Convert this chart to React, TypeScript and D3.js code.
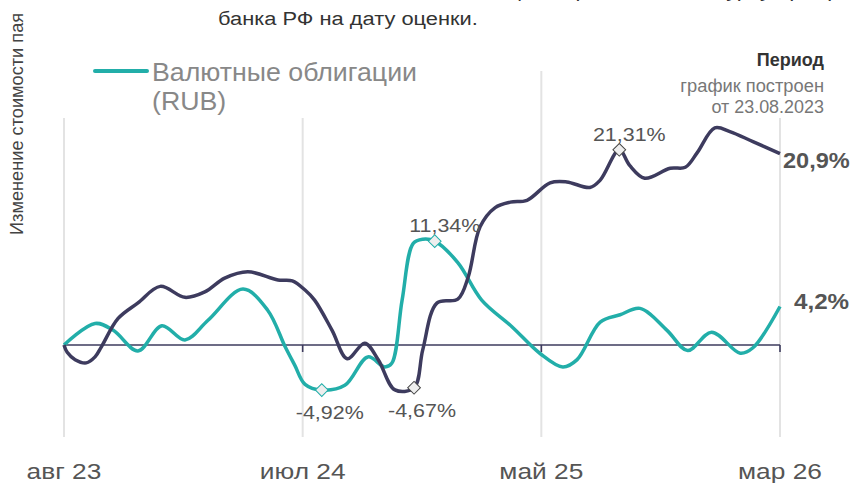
import { useEffect, useRef } from 'react'
import * as d3 from 'd3'

// x positions are weeks from the start of the period
const tickWeeks = [0, 30, 60, 90]
const tickLabels = ['авг 23', 'июл 24', 'май 25', 'мар 26']

const tealWeeks = [0, 3.9, 6.2, 9.3, 12.3, 15.2, 18.1, 22.5, 25.6, 27.8, 29.0, 30.3, 32.4, 35.3, 38.2, 40.3, 41.2, 42.5, 43.9, 45.1, 46.6, 49.5, 52.5, 56.3, 59.8, 62.7, 64.5, 67.4, 69.9, 72.4, 75.8, 78.4, 81.4, 85.0, 86.6, 90]
const tealValues = [0, 2.35, 1.6, -0.65, 2.1, 0.55, 2.7, 6.1, 3.8, -0.2, -2.2, -4.3, -4.92, -4.4, -1.3, -2.4, -2.0, 4.9, 11.1, 11.55, 11.34, 9.0, 4.9, 2.0, -0.9, -2.4, -1.6, 2.5, 3.3, 4.0, 1.6, -0.6, 1.4, -0.9, -0.3, 4.2]

const darkWeeks = [0, 0.4, 1.4, 2.8, 3.9, 4.7, 6.8, 9.3, 12.1, 15.2, 17.7, 20.2, 23.1, 26.9, 28.7, 30.3, 31.5, 33.7, 35.6, 37.8, 39.5, 41.6, 44.0, 45.1, 46.9, 49.5, 50.8, 52.3, 54.2, 56.1, 58.2, 61.1, 63.2, 66.1, 67.4, 69.8, 71.1, 73.0, 76.2, 78.1, 79.6, 81.8, 83.7, 86.6, 90]
const darkValues = [0, -0.8, -1.6, -1.95, -1.3, -0.2, 2.9, 4.6, 6.4, 5.2, 5.8, 7.3, 8.0, 7.1, 7.0, 6.0, 4.9, 1.6, -1.5, 0.2, -1.6, -4.9, -4.67, -0.5, 4.6, 5.0, 7.4, 12.9, 15.0, 15.6, 15.8, 17.7, 17.8, 17.2, 18.0, 21.31, 19.6, 18.2, 19.3, 19.4, 21.0, 23.7, 23.3, 22.2, 20.9]

// annotated points: [week, value, label]
const tealMarks: [number, number, string][] = [[32.4, -4.92, '-4,92%'], [46.6, 11.34, '11,34%']]
const darkMarks: [number, number, string][] = [[44.0, -4.67, '-4,67%'], [69.8, 21.31, '21,31%']]

const TEAL = '#22aea9'
const DARK = '#3d3b5e'

const App = () => {
	const svgRef = useRef(null)

	useEffect(() => {
		const svg = d3.select(svgRef.current)
		svg.selectAll('*').remove()

		const x = d3.scaleLinear().domain([0, 90]).range([64, 780])
		const y = d3.scaleLinear().domain([-10, 25]).range([436.6, 116])
		const font = 'Liberation Sans, Arial, sans-serif'

		// text helper, the source picture is slightly stretched horizontally
		const txt = (tx, ty, s, size, fill, opts: any = {}) =>
			svg
				.append('text')
				.attr('transform', `translate(${tx},${ty}) scale(${opts.sx ?? 1.13},1)`)
				.attr('text-anchor', opts.anchor ?? 'start')
				.style('font', `${opts.weight ?? 'normal'} ${size}px ${font}`)
				.style('fill', fill)
				.text(s)

		// top note (first line is cut off by the frame)
		txt(218, -3, 'Стоимость валютных облигаций пересчитана по курсу Центрального', 19, '#333', { sx: 1.15 })
		txt(218, 25, 'банка РФ на дату оценки.', 19, '#333', { sx: 1.15 })

		// vertical grid
		svg
			.selectAll('.grid')
			.data(tickWeeks)
			.enter()
			.append('line')
			.attr('x1', (d) => x(d))
			.attr('x2', (d) => x(d))
			.attr('y1', (d) => (d === 60 ? 71 : 118))
			.attr('y2', 437)
			.attr('stroke', '#e3e3e3')
			.attr('stroke-width', 2)

		// zero line and ticks
		svg
			.append('line')
			.attr('x1', x(0))
			.attr('x2', x(90))
			.attr('y1', y(0))
			.attr('y2', y(0))
			.attr('stroke', DARK)
			.attr('stroke-width', 1.6)
		svg
			.selectAll('.tick')
			.data(tickWeeks.slice(1))
			.enter()
			.append('line')
			.attr('x1', (d) => x(d))
			.attr('x2', (d) => x(d))
			.attr('y1', y(0))
			.attr('y2', y(0) + 7)
			.attr('stroke', DARK)
			.attr('stroke-width', 1.6)

		// x labels
		tickWeeks.forEach((d, i) => {
			txt(x(d), 479, tickLabels[i], 22.5, '#555', { anchor: 'middle', sx: 1.17 })
		})

		// y title
		svg
			.append('text')
			.attr('transform', 'translate(23,235) rotate(-90)')
			.style('font', `18.2px ${font}`)
			.style('fill', '#444')
			.text('Изменение стоимости пая')

		const line = d3
			.line<[number, number]>()
			.x((d) => x(d[0]))
			.y((d) => y(d[1]))
			.curve(d3.curveCatmullRom.alpha(0.5))

		const series = [
			{ weeks: tealWeeks, values: tealValues, color: TEAL },
			{ weeks: darkWeeks, values: darkValues, color: DARK },
		]
		series.forEach((s) => {
			svg
				.append('path')
				.datum(s.weeks.map((w, i) => [w, s.values[i]] as [number, number]))
				.attr('d', line)
				.attr('fill', 'none')
				.attr('stroke', s.color)
				.attr('stroke-width', 3.5)
				.attr('stroke-linejoin', 'round')
		})

		// diamond markers with labels
		const marks = [
			...tealMarks.map((m) => ({ m, color: TEAL })),
			...darkMarks.map((m) => ({ m, color: '#444' })),
		]
		marks.forEach(({ m, color }) => {
			const [w, v, label] = m
			svg
				.append('rect')
				.attr('x', -4.5)
				.attr('y', -4.5)
				.attr('width', 9)
				.attr('height', 9)
				.attr('transform', `translate(${x(w)},${y(v)}) rotate(45)`)
				.attr('fill', '#eeeeee')
				.attr('stroke', color)
				.attr('stroke-width', 1)
			const below = v < 0
			txt(x(w) + (below ? 8 : 10), y(v) + (below ? 29 : -9), label, 19, '#555', { anchor: 'middle' })
		})

		// end labels
		txt(783, y(20.9) + 14, '20,9%', 22, '#555', { weight: 'bold', sx: 1.07 })
		txt(794, y(4.2) + 2, '4,2%', 22, '#555', { weight: 'bold', sx: 1.1 })

		// legend
		svg
			.append('line')
			.attr('x1', 95)
			.attr('x2', 147)
			.attr('y1', 71)
			.attr('y2', 71)
			.attr('stroke', TEAL)
			.attr('stroke-width', 4)
			.attr('stroke-linecap', 'round')
		txt(152, 81, 'Валютные облигации', 25, '#888', { sx: 1.07 })
		txt(152, 110, '(RUB)', 25, '#888', { sx: 1.07 })

		// period block
		txt(824, 66, 'Период', 18, '#333', { anchor: 'end', weight: 'bold', sx: 1 })
		txt(824, 92, 'график построен', 18.5, '#777', { anchor: 'end', sx: 0.99 })
		txt(824, 113, 'от 23.08.2023', 18.5, '#777', { anchor: 'end', sx: 0.97 })
	}, [])

	return (
		<svg
			ref={svgRef}
			width={852}
			height={483}
			style={{ position: 'absolute', left: 0, top: 0, background: '#fff' }}
		></svg>
	)
}

export default App
